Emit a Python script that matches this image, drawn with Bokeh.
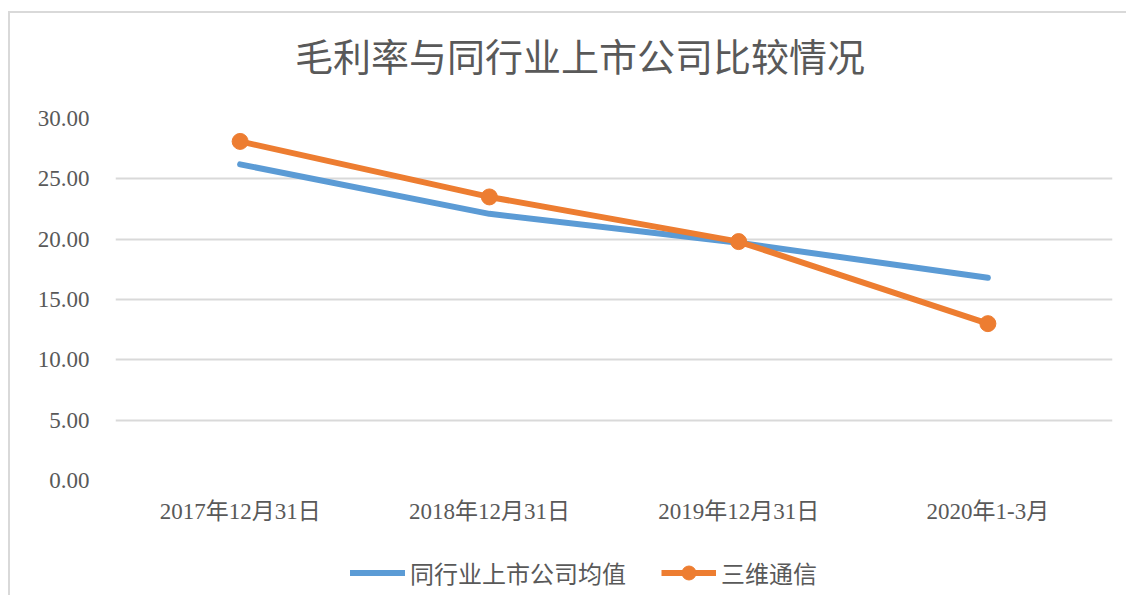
from bokeh.plotting import figure
from bokeh.layouts import column
from bokeh.models import FactorRange, Range1d, NumeralTickFormatter, FixedTicker, Legend, LegendItem, Label
from bokeh.embed import file_html
from bokeh.resources import INLINE

categories = ["2017年12月31日", "2018年12月31日", "2019年12月31日", "2020年1-3月"]
industry_avg = [26.2, 22.1, 19.7, 16.8]
sanwei = [28.1, 23.5, 19.8, 13.0]
y_ticks = [0, 5, 10, 15, 20, 25, 30]

title_text = "毛利率与同行业上市公司比较情况"
series_names = ["同行业上市公司均值", "三维通信"]

BLUE = "#5B9BD5"
ORANGE = "#ED7D31"
GRID = "#d9d9d9"
TXT = "#595959"


def strip(height):
    f = figure(width=1116, height=height, output_backend="svg", toolbar_location=None,
               x_range=Range1d(0, 1), y_range=Range1d(0, 1),
               min_border_left=0, min_border_right=0, min_border_top=0, min_border_bottom=0)
    f.axis.visible = False
    f.grid.visible = False
    f.outline_line_color = None
    f.border_fill_color = "white"
    return f


# title strip (frame aligned with the main plot's frame by the column layout)
p0 = strip(90)
p0.add_layout(Label(x=0.466, y=0.544, text=title_text, text_align="center", text_baseline="middle",
                    text_font="Noto Sans CJK SC", text_font_size="38px", text_color=TXT))

p = figure(x_range=FactorRange(*categories, range_padding=0), y_range=Range1d(0, 30),
           width=1116, height=437, output_backend="svg", toolbar_location=None,
           min_border_left=105, min_border_right=14, min_border_top=15, min_border_bottom=60)
p.outline_line_color = None
p.background_fill_color = "white"
p.border_fill_color = "white"

p.xgrid.grid_line_color = None
p.ygrid.grid_line_color = GRID
p.ygrid.grid_line_width = 2
p.yaxis.ticker = FixedTicker(ticks=y_ticks)
p.yaxis.formatter = NumeralTickFormatter(format="0.00")
for ax in (p.xaxis, p.yaxis):
    ax.axis_line_color = None
    ax.major_tick_line_color = None
    ax.minor_tick_line_color = None
    ax.major_label_text_color = TXT
    ax.major_label_text_font = "Liberation Serif, Noto Sans CJK SC"
    ax.major_label_text_font_size = "23px"
p.yaxis.major_label_standoff = 20
p.xaxis.major_label_standoff = 12

p.line(categories, industry_avg, line_color=BLUE, line_width=6, line_cap="round", line_join="round")
p.line(categories, sanwei, line_color=ORANGE, line_width=6, line_join="round")
p.scatter(categories, sanwei, size=16, fill_color=ORANGE, line_color=ORANGE)

# legend strip
nan = float("nan")
p2 = strip(55)
l1 = p2.line(x=[nan], y=[nan], line_color=BLUE, line_width=6, line_cap="round")
l2 = p2.line(x=[nan], y=[nan], line_color=ORANGE, line_width=6)
l3 = p2.scatter(x=[nan], y=[nan], size=16, fill_color=ORANGE, line_color=ORANGE)

legend = Legend(items=[LegendItem(label=series_names[0], renderers=[l1]),
                       LegendItem(label=series_names[1], renderers=[l2, l3])],
                location=(235, 5), orientation="horizontal",
                glyph_width=55, glyph_height=35, label_height=20, label_standoff=5, spacing=35,
                padding=0, margin=0, border_line_color=None, background_fill_alpha=0,
                label_text_font="Noto Sans CJK SC", label_text_font_size="24px", label_text_color=TXT)
p2.add_layout(legend, "center")

layout = column(p0, p, p2, spacing=0)
layout.styles = {"border-left": "2px solid #d9d9d9", "border-top": "2px solid #d9d9d9",
                 "margin-top": "11px", "margin-left": "8px"}

open("out.html", "w").write(file_html(layout, INLINE))
